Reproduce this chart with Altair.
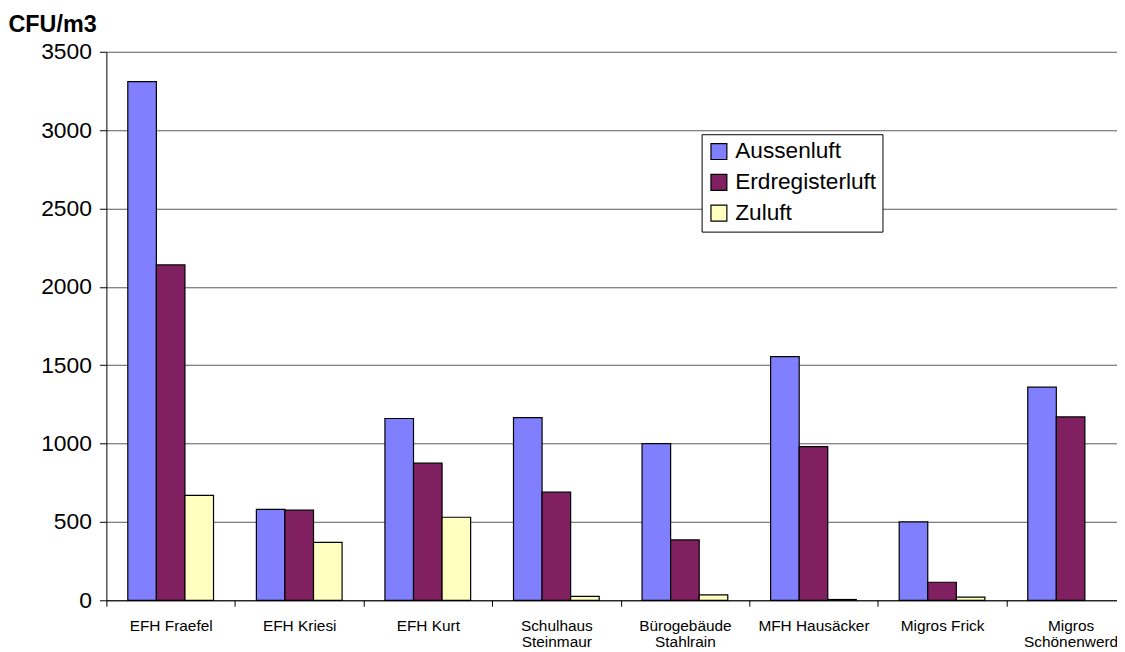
import altair as alt
import pandas as pd

categories = [
    "EFH Fraefel", "EFH Kriesi", "EFH Kurt", "Schulhaus\nSteinmaur",
    "Bürogebäude\nStahlrain", "MFH Hausäcker", "Migros Frick", "Migros\nSchönenwerd",
]
series = ["Aussenluft", "Erdregisterluft", "Zuluft"]
aussenluft = [3310, 580, 1160, 1165, 1000, 1555, 500, 1360]
erdregisterluft = [2140, 575, 875, 690, 385, 980, 115, 1170]
zuluft = [670, 370, 530, 25, 35, 5, 20, None]
colors = ["#8080FF", "#802060", "#FFFFC0"]
y_ticks = [0, 500, 1000, 1500, 2000, 2500, 3000, 3500]

rows = []
for name, vals in zip(series, [aussenluft, erdregisterluft, zuluft]):
    for c, v in zip(categories, vals):
        rows.append({"Objekt": c, "Serie": name, "Wert": v})
df = pd.DataFrame(rows)

FONT = "Liberation Sans"

chart = alt.Chart(df).mark_bar(stroke="black", strokeWidth=1.2).encode(
    x=alt.X(
        "Objekt:N",
        sort=categories,
        scale=alt.Scale(range=[0, 1035], paddingInner=0, paddingOuter=0),
        axis=alt.Axis(
            title=None, labelAngle=0, tickBand="extent", labelFontSize=15.5,
            labelFont=FONT, labelColor="black", labelBaseline="top",
            labelPadding=12, labelLineHeight=17,
            labelExpr="split(datum.label, '\\n')",
            domainColor="black", tickColor="black", tickSize=6, grid=False,
        ),
    ),
    xOffset=alt.XOffset("Serie:N", sort=series,
                        scale=alt.Scale(paddingInner=0, paddingOuter=0.75)),
    y=alt.Y(
        "Wert:Q",
        scale=alt.Scale(domain=[0, 3500], nice=False),
        axis=alt.Axis(
            title="CFU/m3", titleAngle=0, titleAlign="left", titleBaseline="alphabetic",
            titleX=-99, titleY=-20, titleFontSize=23.5, titleFont=FONT,
            titleFontWeight="bold", titleColor="black",
            values=y_ticks, format="d", labelFontSize=23, labelFont=FONT,
            labelColor="black", labelPadding=8, tickSize=7, tickColor="black",
            domainColor="black", gridColor="#5a5a5a", gridWidth=1,
        ),
    ),
    color=alt.Color(
        "Serie:N", sort=series,
        scale=alt.Scale(domain=series, range=colors),
        legend=alt.Legend(
            title=None, orient="none", legendX=599, legendY=83,
            symbolType="square", symbolSize=256, symbolStrokeColor="black",
            symbolStrokeWidth=1.2, labelFontSize=22.8, labelFont=FONT,
            labelColor="black", labelOffset=5, rowPadding=7,
            strokeColor="black", padding=6, fillColor="white",
        ),
    ),
).properties(
    width=1017,
    height=552,
    autosize=alt.AutoSizeParams(type="none"),
    padding={"left": 99, "top": 42, "right": 0, "bottom": 50},
).configure_view(stroke=None)

chart.save("out.html", embed_options={"renderer": "svg", "actions": False})
